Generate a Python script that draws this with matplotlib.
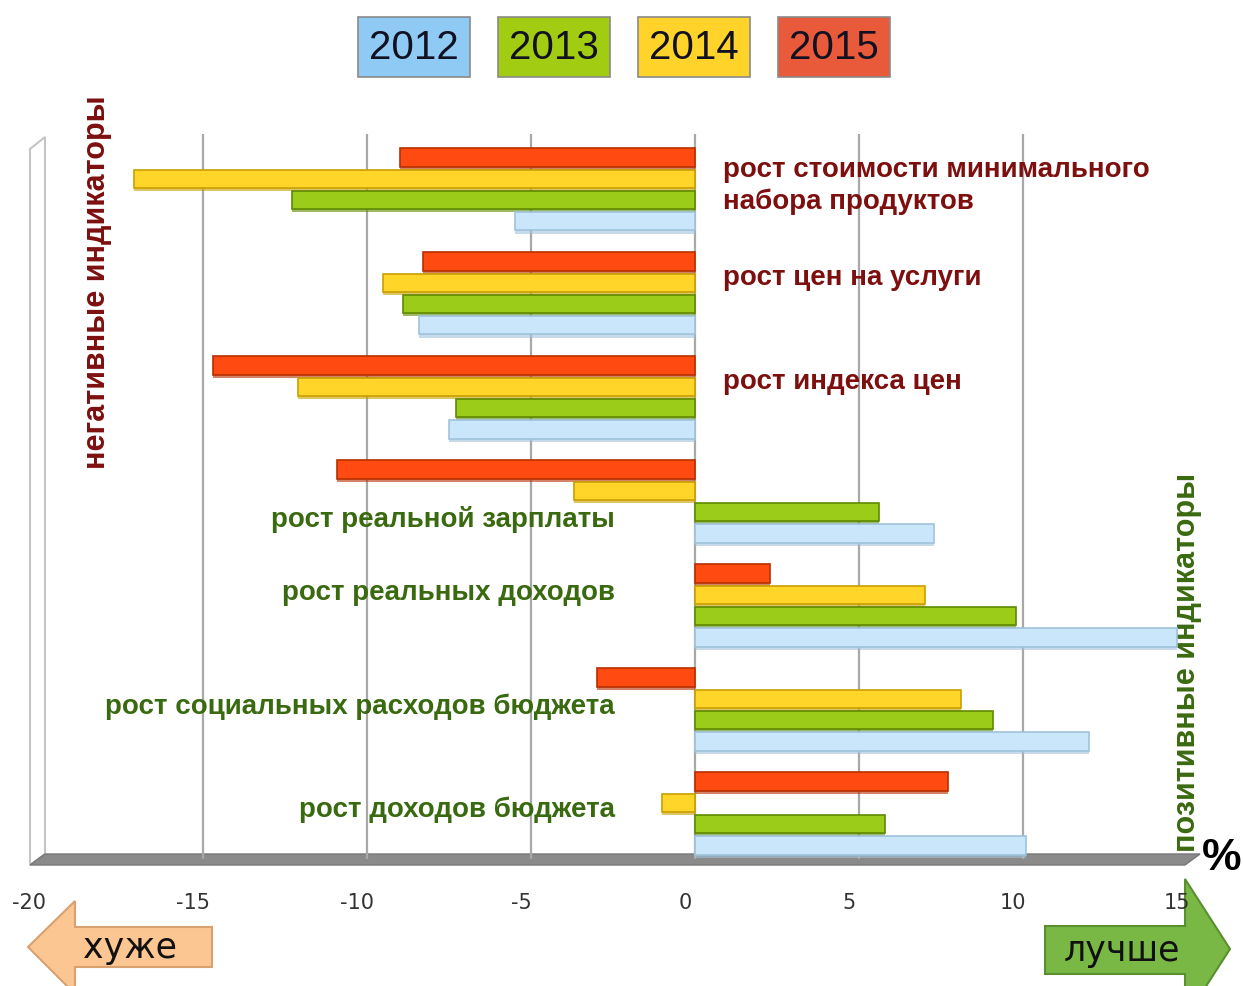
import matplotlib.pyplot as plt
import numpy as np
from matplotlib.patches import Rectangle, Polygon
from matplotlib.transforms import ScaledTranslation

categories = ["рост стоимости минимального\nнабора продуктов", "рост цен на услуги",
              "рост индекса цен", "рост реальной зарплаты", "рост реальных доходов",
              "рост социальных расходов бюджета", "рост доходов бюджета"]
years = ["2012", "2013", "2014", "2015"]
v2012 = [-5.5, -8.4, -7.5, 7.3, 14.7, 12.0, 10.1]
v2013 = [-12.3, -8.9, -7.3, 5.6, 9.8, 9.1, 5.8]
v2014 = [-17.1, -9.5, -12.1, -3.7, 7.0, 8.1, -1.0]
v2015 = [-9.0, -8.3, -14.7, -10.9, 2.3, -3.0, 7.7]
xticks = [-20, -15, -10, -5, 0, 5, 10, 15]

bar_colors = ["#c9e6fa", "#9ccc1a", "#ffd52a", "#ff4a12"]
edge_colors = ["#9fc3dc", "#5f8a00", "#c9a000", "#b83000"]
legend_colors = ["#8fcaf5", "#a2cc12", "#ffd32a", "#e85a3a"]
dark_red = "#7d0f0f"
dark_green = "#3a6a10"

W, H = 1244, 987
fig = plt.figure(figsize=(W / 100, H / 100), dpi=100)

# background overlay in pixel coordinates for decorations
bg = fig.add_axes([0, 0, 1, 1], zorder=0)
bg.set_xlim(0, W)
bg.set_ylim(H, 0)
bg.axis("off")

ax = fig.add_axes([39 / W, 1 - 860 / H, (1187 - 39) / W, (860 - 135) / H], zorder=1)
ax.set_facecolor("none")

series = [v2012, v2013, v2014, v2015]
offsets = [0.31, 0.105, -0.1, -0.305]
bh = 0.175
y = np.arange(len(categories))

for v, off, c, ec in zip(series, offsets, bar_colors, edge_colors):
    # shadow for a bit of depth
    ax.barh(y + off + 0.03, v, height=bh, color=ec, alpha=0.6, zorder=2, linewidth=0)
    ax.barh(y + off, v, height=bh, color=c, edgecolor=ec, linewidth=1.2, zorder=3)

for gx in [-15, -10, -5, 0, 5, 10]:
    ax.axvline(gx, color="#a8a8a8", lw=1.6, zorder=1)

ax.set_xlim(-20, 15)
ax.set_ylim(6.44, -0.53)
ax.set_yticks([])
ax.set_xticks(xticks)
ax.set_xticklabels([str(t) for t in xticks], fontsize=15, color="#333333",
                   family=["Liberation Sans Narrow", "DejaVu Sans"])
ax.tick_params(axis="x", length=0, pad=24)
for lab in ax.get_xticklabels():
    lab.set_transform(lab.get_transform() + ScaledTranslation(-0.1, 0, fig.dpi_scale_trans))
for s in ax.spines.values():
    s.set_visible(False)

# category labels
label_dy = [-0.04, -0.16, -0.16, 0.17, -0.13, -0.03, -0.04]
for i, (cat, dy) in enumerate(zip(categories, label_dy)):
    if i < 3:
        ax.text(0.85, i + dy, cat, ha="left", va="center", fontsize=20, fontweight="bold",
                color=dark_red, family="Liberation Sans", linespacing=1.3, zorder=5)
    else:
        ax.text(-2.45, i + dy, cat, ha="right", va="center", fontsize=20, fontweight="bold",
                color=dark_green, family="Liberation Sans", zorder=5)

# left wall and floor
bg.add_patch(Polygon([(30, 150), (45, 138), (45, 855), (30, 866)], closed=True,
                     facecolor="white", edgecolor="#c4c4c4", lw=1.5))
bg.add_patch(Polygon([(30, 866), (45, 855), (1200, 855), (1185, 866)], closed=True,
                     facecolor="#8a8a8a", edgecolor="#777777", lw=1))

# legend boxes
for i, (yr, lc) in enumerate(zip(years, legend_colors)):
    x0 = 358 + i * 140
    bg.add_patch(Rectangle((x0, 18), 112, 60, facecolor=lc, edgecolor="#8a8a8a", lw=1.2))
    bg.text(x0 + 56, 48, yr, ha="center", va="center", fontsize=29,
            family="Liberation Sans", color="#111122")

# side labels
bg.text(97, 282, "негативные индикаторы", rotation=90, ha="center", va="center",
        fontsize=22, fontweight="bold", color=dark_red, family="Liberation Sans")
bg.text(1187, 662, "позитивные индикаторы", rotation=90, ha="center", va="center",
        fontsize=22, fontweight="bold", color=dark_green, family="Liberation Sans")
bg.text(1222, 858, "%", ha="center", va="center", fontsize=32, fontweight="bold",
        color="black", family="Liberation Sans")

# arrows
bg.add_patch(Polygon([(28, 948), (75, 902), (75, 928), (212, 928), (212, 968),
                      (75, 968), (75, 995)], closed=True,
                     facecolor="#fcc692", edgecolor="#d9a070", lw=1.5))
bg.text(130, 948, "хуже", ha="center", va="center", fontsize=25, color="#111111",
        family=["Liberation Sans Narrow", "DejaVu Sans"])
bg.add_patch(Polygon([(1230, 950), (1185, 880), (1185, 927), (1045, 927), (1045, 975),
                      (1185, 975), (1185, 1020)], closed=True,
                     facecolor="#79b845", edgecolor="#5a8f30", lw=1.5))
bg.text(1122, 951, "лучше", ha="center", va="center", fontsize=25, color="#111111",
        family=["Liberation Sans Narrow", "DejaVu Sans"])

fig.savefig("out.png", dpi=100)
